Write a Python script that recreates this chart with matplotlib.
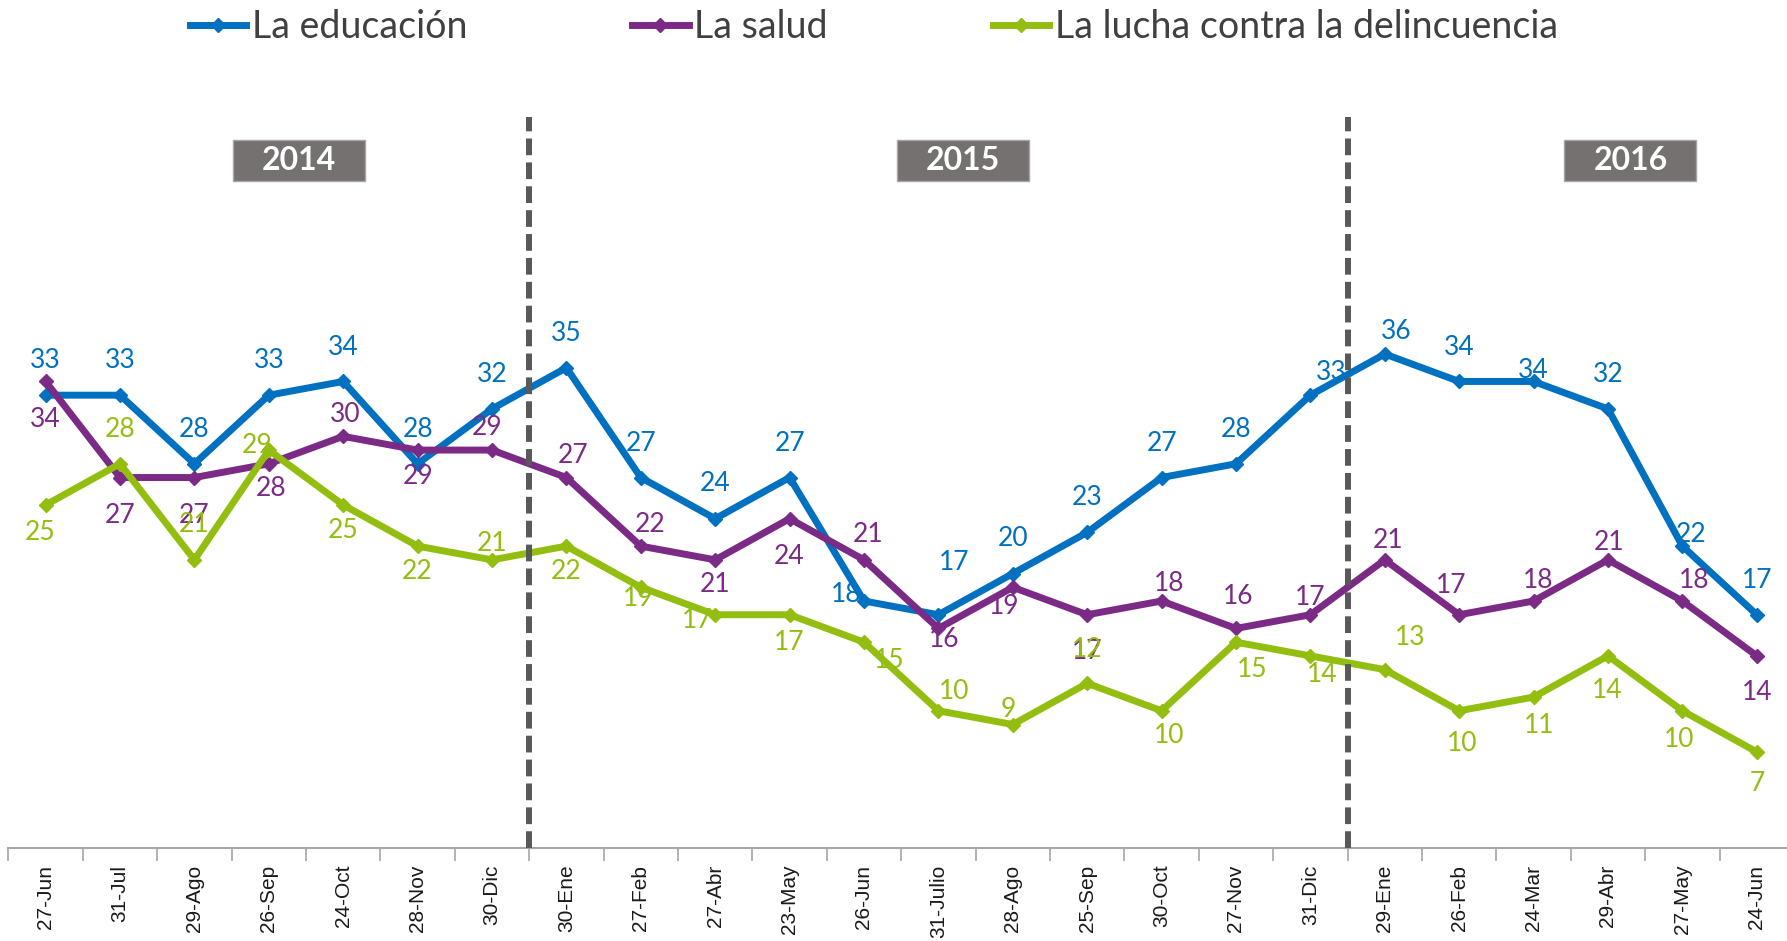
import numpy as np
import matplotlib.pyplot as plt
from matplotlib.lines import Line2D
from matplotlib.patches import Rectangle

# fechas de las encuestas
categorias = ['27-Jun', '31-Jul', '29-Ago', '26-Sep', '24-Oct', '28-Nov', '30-Dic',
              '30-Ene', '27-Feb', '27-Abr', '23-May', '26-Jun', '31-Julio', '28-Ago',
              '25-Sep', '30-Oct', '27-Nov', '31-Dic',
              '29-Ene', '26-Feb', '24-Mar', '29-Abr', '27-May', '24-Jun']

educacion = [33, 33, 28, 33, 34, 28, 32, 35, 27, 24, 27, 18, 17, 20, 23, 27, 28, 33,
             36, 34, 34, 32, 22, 17]
salud = [34, 27, 27, 28, 30, 29, 29, 27, 22, 21, 24, 21, 16, 19, 17, 18, 16, 17,
         21, 17, 18, 21, 18, 14]
delincuencia = [25, 28, 21, 29, 25, 22, 21, 22, 19, 17, 17, 15, 10, 9, 12, 10, 15, 14,
                13, 10, 11, 14, 10, 7]

series_names = ['La educación', 'La salud', 'La lucha contra la delincuencia']

years = ['2014', '2015', '2016']
year_pos = [3.41, 12.33, 21.3]     # centro de cada etiqueta de año (en categorías)
year_breaks = [6.5, 17.5]          # separadores entre años

colors = ['#0070C0', '#7B2A86', '#93BE10']

# desplazamiento (dx, dy) de cada etiqueta de dato, en px de la vista previa
off_edu = [(0, -30), (0, -30), (0, -30), (0, -30), (0, -30), (0, -30), (0, -30),
           (0, -30), (0, -30), (0, -31), (0, -30), (-16, -6), (14, -46), (0, -31),
           (0, -31), (0, -30), (0, -30), (18, -20), (10, -20), (0, -30), (0, -10),
           (0, -30), (8, -10), (0, -30)]
off_sal = [(0, 33), (0, 33), (0, 33), (2, 22), (2, -19), (0, 23), (-4, -20), (6, -19),
           (8, -19), (0, 22), (0, 33), (4, -22), (5, 10), (-8, 17), (0, 32), (7, -15),
           (2, -28), (0, -15), (3, -17), (-7, -26), (4, -18), (1, -15), (10, -18),
           (0, 32)]
off_del = [(-5, 24), (0, -30), (0, -31), (-10, -4), (0, 22), (0, 22), (0, -14),
           (0, 22), (-2, 10), (-16, 5), (0, 24), (22, 16), (14, -17), (-4, -13),
           (0, -30), (7, 22), (14, 24), (10, 16), (22, -28), (3, 29), (5, 25), (-1, 30),
           (-3, 25), (0, 28)]
SC = 1787 / 1568

plt.rcParams['font.family'] = ['Lato', 'DejaVu Sans']

fig = plt.figure(figsize=(17.87, 9.41), dpi=100)
ax = fig.add_axes([8.4 / 1787, 93 / 941, 1785.6 / 1787, 848 / 941])

x = np.arange(len(categorias))
all_series = [educacion, salud, delincuencia]
all_offsets = [off_edu, off_sal, off_del]

for vals, col, name in zip(all_series, colors, series_names):
    ax.plot(x, vals, color=col, lw=5, marker='D', markersize=7,
            solid_joinstyle='miter', label=name, zorder=3)

for vals, col, offs in zip(all_series, colors, all_offsets):
    for xi, v, (dx, dy) in zip(x, vals, offs):
        ax.annotate(str(v), (xi, v), xytext=(dx * SC, -dy * SC),
                    textcoords='offset pixels', ha='center', va='center',
                    fontsize=19, color=col, zorder=5)

ax.set_xlim(-0.5, len(categorias) - 0.5)
ax.set_ylim(0, 61.8)

# separadores de año
for b in year_breaks:
    ax.plot([b, b], [0, 53.3], color='#595959', lw=4.3, dashes=(2.8, 1.2),
            zorder=6, solid_capstyle='butt')

# recuadros de año
bw, bh = 132 / 74.4, 41 / 13.72
for yr, xp in zip(years, year_pos):
    ax.add_patch(Rectangle((xp - bw / 2, 50.1 - bh / 2), bw, bh,
                           facecolor='#767171', edgecolor='#A6A6A6', lw=1, zorder=4))
    ax.text(xp, 50.1, yr, ha='center', va='center', fontsize=23,
            fontweight='bold', color='white', zorder=5)

# eje inferior
for s in ['top', 'left', 'right']:
    ax.spines[s].set_visible(False)
ax.spines['bottom'].set_color('#A6A6A6')
ax.spines['bottom'].set_linewidth(1.5)
ax.set_yticks([])
ax.set_xticks(np.arange(-0.5, len(categorias)), minor=False)
ax.set_xticklabels([])
ax.tick_params(axis='x', which='major', length=9, width=1.2, color='#A6A6A6')
ax.set_xticks(x, minor=True)
ax.set_xticklabels(categorias, minor=True, rotation=90, fontsize=15,
                   family='Liberation Sans', color='#1a1a1a')
ax.tick_params(axis='x', which='minor', length=0, pad=12)

handles = [Line2D([], [], color=c, lw=5, marker='D', markersize=7) for c in colors]
leg = fig.legend(handles, series_names, loc='center', bbox_to_anchor=(0.489, 0.971),
                 ncol=3, frameon=False, handlelength=1.5, handletextpad=0.15,
                 columnspacing=4.4, prop={'family': 'Lato', 'size': 27})
for t in leg.get_texts():
    t.set_color('#404040')

fig.savefig('out.png', dpi=100)
